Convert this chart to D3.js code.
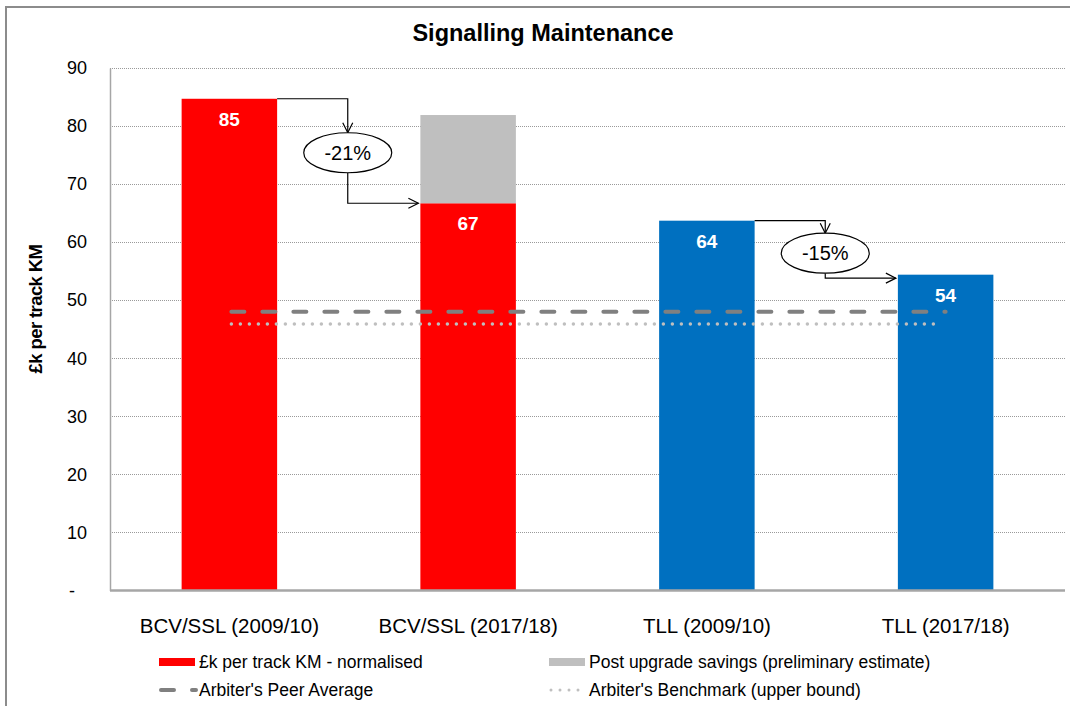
<!DOCTYPE html>
<html>
<head>
<meta charset="utf-8">
<script src="https://cdn.jsdelivr.net/npm/d3@7"></script>
<style>
  html, body { margin: 0; background: #fff; overflow: hidden; }
  svg { display: block; }
  svg text { font-family: "Liberation Sans", Arial, sans-serif; }
</style>
</head>
<body>
<div id="chart"></div>
<script>
// Datos
const categorias = ["BCV/SSL (2009/10)", "BCV/SSL (2017/18)", "TLL (2009/10)", "TLL (2017/18)"];
const costeNormalizado = [84.7, 66.7, 63.7, 54.4];
const ahorroPost = [0, 15.2, 0, 0];
const etiquetasValor = ["85", "67", "64", "54"];
const coloresBarra = ["#FF0000", "#FF0000", "#0070C0", "#0070C0"];
const mediaPares = 48.0;
const benchmark = 45.9;
const yTicks = [0, 10, 20, 30, 40, 50, 60, 70, 80, 90];

// Flechas de variación: desde categoría, hasta categoría, etiqueta, nivel de la elipse
const variaciones = [
    { desde: 0, hasta: 1, texto: "-21%", nivel: 75.4, yFin: 66.7 },
    { desde: 2, hasta: 3, texto: "-15%", nivel: 58.1, yFin: 53.8 }
];

const leyenda = [
    { texto: "£k per track KM - normalised", tipo: "rect", color: "#FF0000" },
    { texto: "Post upgrade savings (preliminary estimate)", tipo: "rect", color: "#BFBFBF" },
    { texto: "Arbiter's Peer Average", tipo: "dash", color: "#808080" },
    { texto: "Arbiter's Benchmark (upper bound)", tipo: "dot", color: "#BFBFBF" }
];

const svgWidth = 1070, svgHeight = 706;
const margin = { top: 68, right: 5, bottom: 115.5, left: 110 };

const svg = d3.select("#chart")
    .append("svg")
    .attr("width", svgWidth)
    .attr("height", svgHeight);

// Borde del área del gráfico (solo arriba e izquierda quedan a la vista)
svg.append("path")
    .attr("d", `M6,${svgHeight}V7H${svgWidth}`)
    .attr("fill", "none")
    .attr("stroke", "#8c8c8c")
    .attr("stroke-width", 2);

const x = d3.scaleBand()
    .domain(categorias)
    .range([margin.left, svgWidth - margin.right])
    .paddingInner(0.6)
    .paddingOuter(0.3);

const y = d3.scaleLinear()
    .domain([0, 90])
    .range([svgHeight - margin.bottom, margin.top]);

// Título
svg.append("text")
    .attr("x", 543).attr("y", 41)
    .attr("text-anchor", "middle")
    .style("font-size", "23.5px")
    .style("font-weight", "bold")
    .text("Signalling Maintenance");

// Líneas de cuadrícula
svg.append("g")
    .selectAll("line")
    .data(yTicks.filter(d => d > 0))
    .enter()
    .append("line")
    .attr("x1", margin.left).attr("x2", svgWidth - margin.right)
    .attr("y1", d => Math.round(y(d)) + 0.5).attr("y2", d => Math.round(y(d)) + 0.5)
    .attr("stroke", "#9a9a9a")
    .attr("stroke-width", 1)
    .attr("stroke-dasharray", "1,1");

// Eje Y
const ejeY = svg.append("g")
    .attr("transform", `translate(${margin.left}, 0)`)
    .call(d3.axisLeft(y).tickValues(yTicks).tickSize(0).tickPadding(23)
        .tickFormat(d => d === 0 ? "-" : d));
ejeY.select(".domain").attr("stroke", "#a6a6a6").attr("stroke-width", 1.5);
ejeY.selectAll("text").style("font-size", "18px").attr("fill", "#000");
ejeY.selectAll(".tick").filter(d => d === 0).select("text").attr("dx", -12);

// Título eje Y
svg.append("text")
    .attr("transform", "translate(42, 309) rotate(-90)")
    .attr("text-anchor", "middle")
    .style("font-size", "18.5px")
    .style("font-weight", "bold")
    .style("letter-spacing", "-0.6px")
    .text("£k per track KM");

// Barras
svg.selectAll(".barra")
    .data(categorias)
    .enter()
    .append("rect")
    .attr("x", d => x(d))
    .attr("y", (d, i) => y(costeNormalizado[i]))
    .attr("width", x.bandwidth())
    .attr("height", (d, i) => y(0) - y(costeNormalizado[i]))
    .attr("fill", (d, i) => coloresBarra[i]);

svg.selectAll(".ahorro")
    .data(categorias.filter((d, i) => ahorroPost[i] > 0))
    .enter()
    .append("rect")
    .attr("x", d => x(d))
    .attr("y", d => { const i = categorias.indexOf(d); return y(costeNormalizado[i] + ahorroPost[i]); })
    .attr("width", x.bandwidth())
    .attr("height", d => { const i = categorias.indexOf(d); return y(costeNormalizado[i]) - y(costeNormalizado[i] + ahorroPost[i]); })
    .attr("fill", "#BFBFBF");

// Eje X
const ejeX = svg.append("g")
    .attr("transform", `translate(0, ${y(0)})`)
    .call(d3.axisBottom(x).tickSize(0).tickPadding(28));
ejeX.select(".domain").attr("stroke", "#a6a6a6").attr("stroke-width", 2.5)
    .attr("d", `M${margin.left},0H${svgWidth - margin.right}`);
ejeX.selectAll("text").style("font-size", "20.5px").attr("fill", "#000");

// Etiquetas de valor
svg.selectAll(".valor")
    .data(categorias)
    .enter()
    .append("text")
    .attr("x", d => x(d) + x.bandwidth() / 2)
    .attr("y", (d, i) => y(costeNormalizado[i]) + 27)
    .attr("text-anchor", "middle")
    .attr("fill", "#fff")
    .style("font-size", "19px")
    .style("font-weight", "bold")
    .text((d, i) => etiquetasValor[i]);

// Líneas de referencia
const x0 = x(categorias[0]) + x.bandwidth() / 2;
const x1 = x(categorias[categorias.length - 1]) + x.bandwidth() / 2;

svg.append("line")
    .attr("x1", x0 + 2).attr("x2", x1)
    .attr("y1", y(mediaPares)).attr("y2", y(mediaPares))
    .attr("stroke", "#808080")
    .attr("stroke-width", 4)
    .attr("stroke-linecap", "round")
    .attr("stroke-dasharray", "13,18");

svg.append("line")
    .attr("x1", x0 + 2).attr("x2", x1 - 6)
    .attr("y1", y(benchmark)).attr("y2", y(benchmark))
    .attr("stroke", "#BFBFBF")
    .attr("stroke-width", 3.5)
    .attr("stroke-linecap", "round")
    .attr("stroke-dasharray", "0,9");

// Flechas de variación
const punta = (px, py, dir) => {
    // flecha abierta, dir: "abajo" o "derecha"
    if (dir === "abajo") return `M${px - 5},${py - 10}L${px},${py}L${px + 5},${py - 10}`;
    return `M${px - 10},${py - 5}L${px},${py}L${px - 10},${py + 5}`;
};

variaciones.forEach(v => {
    const xa = x(categorias[v.desde]) + x.bandwidth();
    const xb = x(categorias[v.hasta]);
    const xm = (xa + xb) / 2 - 1;
    const ya = y(costeNormalizado[v.desde]);
    const yb = y(v.yFin);
    const ym = y(v.nivel);
    const rx = 44, ry = 20;

    const g = svg.append("g").attr("fill", "none").attr("stroke", "#000").attr("stroke-width", 1.2);
    g.append("path").attr("d", `M${xa},${ya}H${xm}V${ym - ry}`);
    g.append("path").attr("d", punta(xm, ym - ry, "abajo"));
    g.append("path").attr("d", `M${xm},${ym + ry}V${yb}H${xb - 2}`);
    g.append("path").attr("d", punta(xb - 2, yb, "derecha"));

    svg.append("ellipse")
        .attr("cx", xm).attr("cy", ym)
        .attr("rx", rx).attr("ry", ry)
        .attr("fill", "#fff")
        .attr("stroke", "#000")
        .attr("stroke-width", 1.2);

    svg.append("text")
        .attr("x", xm).attr("y", ym + 7)
        .attr("text-anchor", "middle")
        .style("font-size", "20px")
        .text(v.texto);
});

// Leyenda
const colX = [159, 549];
const filaY = [662, 690];
const leg = svg.append("g");
leyenda.forEach((d, i) => {
    const lx = colX[i % 2], ly = filaY[Math.floor(i / 2)];
    if (d.tipo === "rect") {
        leg.append("rect").attr("x", lx).attr("y", ly - 4).attr("width", 36).attr("height", 8).attr("fill", d.color);
    } else if (d.tipo === "dash") {
        leg.append("line").attr("x1", lx + 2).attr("x2", lx + 37).attr("y1", ly).attr("y2", ly)
            .attr("stroke", d.color).attr("stroke-width", 4).attr("stroke-linecap", "round")
            .attr("stroke-dasharray", "13,18");
    } else {
        leg.append("line").attr("x1", lx + 2).attr("x2", lx + 35).attr("y1", ly).attr("y2", ly)
            .attr("stroke", d.color).attr("stroke-width", 3).attr("stroke-linecap", "round")
            .attr("stroke-dasharray", "0,9");
    }
    leg.append("text").attr("x", lx + 40).attr("y", ly + 6)
        .style("font-size", "17.5px")
        .attr("fill", "#000")
        .text(d.texto);
});
</script>
</body>
</html>
